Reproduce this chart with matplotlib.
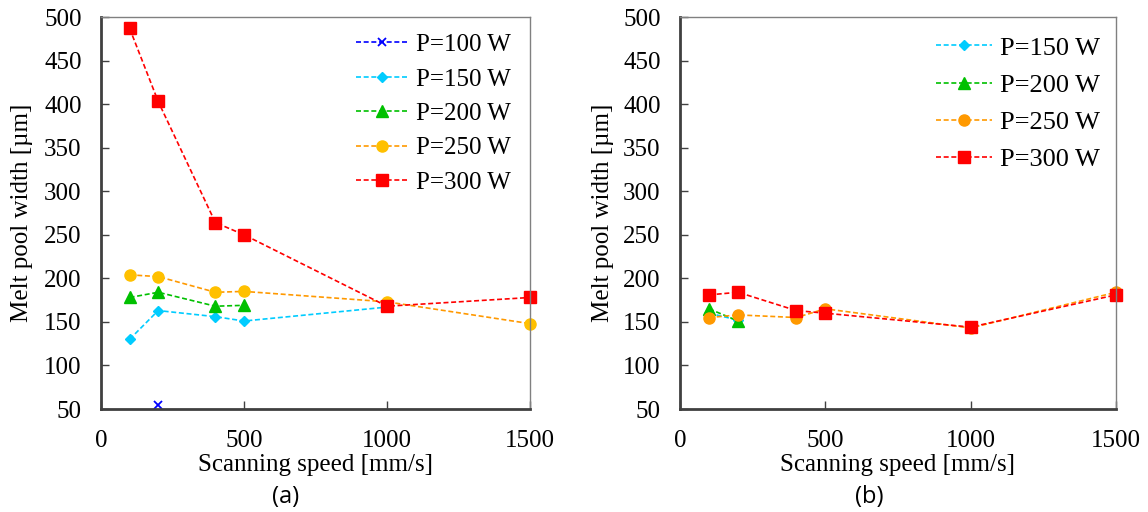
import matplotlib.pyplot as plt

plt.rcParams['font.family'] = ['Liberation Serif', 'DejaVu Serif']

# panel (a)
a_p100_x = [200]
a_p100_y = [55]
a_p150_x = [100, 200, 400, 500, 1000]
a_p150_y = [130, 163, 156, 151, 167]
a_p200_x = [100, 200, 400, 500]
a_p200_y = [178, 184, 168, 169]
a_p250_x = [100, 200, 400, 500, 1000, 1500]
a_p250_y = [204, 202, 184, 185, 173, 148]
a_p300_x = [100, 200, 400, 500, 1000, 1500]
a_p300_y = [487, 403, 264, 250, 168, 178]

# panel (b)
b_p150_x = [100, 200]
b_p150_y = [160, 152]
b_p200_x = [100, 200]
b_p200_y = [165, 151]
b_p250_x = [100, 200, 400, 500, 1000, 1500]
b_p250_y = [155, 158, 155, 165, 143, 184]
b_p300_x = [100, 200, 400, 500, 1000, 1500]
b_p300_y = [181, 184, 163, 160, 144, 181]

xticks = [0, 500, 1000, 1500]
yticks = list(range(50, 501, 50))

fig = plt.figure(figsize=(11.48, 5.12), dpi=100)
W, H = 1148, 512
ax1 = fig.add_axes([101/W, 1-409/H, 429/W, 392/H])
ax2 = fig.add_axes([680/W, 1-409/H, 436/W, 392/H])

ls = (0, (3, 1.6))
lw = 1.2

ax1.plot(a_p100_x, a_p100_y, linestyle=ls, lw=lw, color='#0000FF', marker='x', ms=6, mew=1.3, label='P=100 W')
ax1.plot(a_p150_x, a_p150_y, linestyle=ls, lw=lw, color='#00CCFF', marker='D', ms=5.5, label='P=150 W')
ax1.plot(a_p200_x, a_p200_y, linestyle=ls, lw=lw, color='#00C000', marker='^', ms=8, label='P=200 W')
ax1.plot(a_p250_x, a_p250_y, linestyle=ls, lw=lw, color='#FF9900', marker='o', ms=8,
         mfc='#FFC000', mec='#FFC000', label='P=250 W')
ax1.plot(a_p300_x, a_p300_y, linestyle=ls, lw=lw, color='#FF0000', marker='s', ms=8, label='P=300 W')

ax2.plot(b_p150_x, b_p150_y, linestyle=ls, lw=lw, color='#00CCFF', marker='D', ms=5.5, label='P=150 W')
ax2.plot(b_p200_x, b_p200_y, linestyle=ls, lw=lw, color='#00C000', marker='^', ms=8, label='P=200 W')
ax2.plot(b_p250_x, b_p250_y, linestyle=ls, lw=lw, color='#FF9900', marker='o', ms=8,
         mfc='#FF9900', mec='#FF9900', label='P=250 W')
ax2.plot(b_p300_x, b_p300_y, linestyle=ls, lw=lw, color='#FF0000', marker='s', ms=8, label='P=300 W')

for ax in (ax1, ax2):
    ax.set_xlim(0, 1500)
    ax.set_ylim(50, 500)
    ax.set_xticks(xticks)
    ax.set_yticks(yticks)
    ax.tick_params(direction='in', length=6, width=1, color='#404040', labelsize=18)
    ax.tick_params(axis='y', pad=14)
    ax.tick_params(axis='x', pad=15)
    for s in ('left', 'bottom'):
        ax.spines[s].set_linewidth(2)
        ax.spines[s].set_color('#404040')
    for s in ('top', 'right'):
        ax.spines[s].set_linewidth(1)
        ax.spines[s].set_color('#808080')
    ax.set_xlabel('Scanning speed [mm/s]', fontsize=18)
    ax.set_ylabel('Melt pool width [µm]', fontsize=18)
    for l in ax.lines:
        l.set_clip_on(False)

for ax, xc in ((ax1, 22), (ax2, 603)):
    pos = ax.get_position()
    ax.xaxis.set_label_coords(0.5, -(465-409)/392)
    ax.xaxis.label.set_va('center')
    ax.yaxis.set_label_coords(-(pos.x0*W - xc)/(pos.width*W), 0.5)
    ax.yaxis.label.set_va('center')

ax1.legend(loc='upper right', bbox_to_anchor=(1 - 7/429, 1 - 4/392), frameon=False,
           fontsize=18, handlelength=2.1, handletextpad=0.3, labelspacing=0.48,
           borderaxespad=0.2, borderpad=0.3)
ax2.legend(loc='upper right', bbox_to_anchor=(1 - 3/436, 1 - 6/392), frameon=False,
           fontsize=19, handlelength=2.1, handletextpad=0.3, labelspacing=0.52,
           borderaxespad=0.2, borderpad=0.3)

fig.text(286/W, 1-497/H, '(a)', fontsize=17, family=['Open Sans', 'DejaVu Sans'], ha='center', va='center')
fig.text(869/W, 1-497/H, '(b)', fontsize=17, family=['Open Sans', 'DejaVu Sans'], ha='center', va='center')

fig.savefig('out.png', dpi=100)
